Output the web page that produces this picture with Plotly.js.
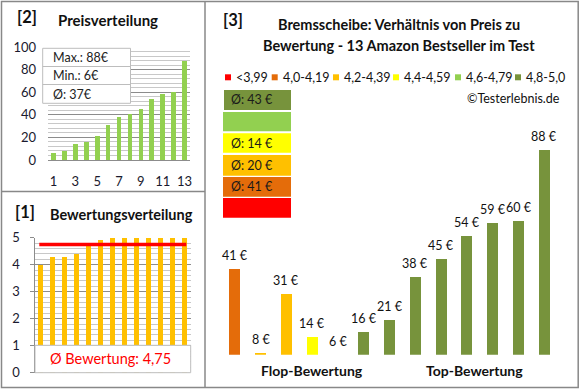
<!DOCTYPE html>
<html><head><meta charset="utf-8">
<script src="https://cdn.plot.ly/plotly-3.0.1.min.js"></script>
<style>html,body{margin:0;padding:0;background:#fff}#chart{width:580px;height:390px}</style>
</head><body><div id="chart"></div>
<script>
// ---- data ----
const rank = [1,2,3,4,5,6,7,8,9,10,11,12,13];
const pricesSorted = [6,8,14,16,21,31,38,41,45,54,59,60,88];
const ratingsSorted = [4.0,4.3,4.3,4.4,4.8,4.9,5.0,5.0,5.0,5.0,5.0,5.0,5.0];
const testPrices = [41,8,31,14,6,16,21,38,45,54,59,60,88];
const testRatings = [4.0,4.3,4.3,4.4,4.8,4.9,5.0,5.0,5.0,5.0,5.0,5.0,5.0];
const catLabels = ['<3,99','4,0-4,19','4,2-4,39','4,4-4,59','4,6-4,79','4,8-5,0'];
const catLower = [0,4.0,4.2,4.4,4.6,4.8];
const catColors = ['#FF0000','#E46C0A','#FFC000','#FFFF00','#92D050','#77933C'];

// ---- helpers ----
const W=580,H=390;
const px=x=>x/W, py=y=>1-y/H;
const FONT='Lato, Carlito, Calibri, sans-serif';
const catOf=r=>{let c=0;catLower.forEach((l,i)=>{if(r>=l-1e-9)c=i;});return c;};
const fmt=v=>v.toFixed(2).replace('.',',');

const Y3MIN=7.2;
const barColors = testRatings.map(r=>catColors[catOf(r)]);
const avgRating = ratingsSorted.reduce((a,b)=>a+b,0)/ratingsSorted.length;
const maxP = Math.max(...pricesSorted), minP=Math.min(...pricesSorted);
const avgP = Math.round(pricesSorted.reduce((a,b)=>a+b,0)/pricesSorted.length);

const traces = [
  {type:'bar',x:rank,y:pricesSorted,xaxis:'x',yaxis:'y',marker:{color:'#92D050'},width:0.43,hoverinfo:'skip'},
  {type:'bar',x:rank,y:ratingsSorted,xaxis:'x2',yaxis:'y2',marker:{color:'#FFC000'},width:0.4,hoverinfo:'skip'},
  {type:'scatter',mode:'lines',x:[rank[0]-0.1,rank[rank.length-1]+0.15],y:[avgRating,avgRating],xaxis:'x2',yaxis:'y2',line:{color:'#FF0000',width:3.5},hoverinfo:'skip'},
  {type:'bar',x:rank,y:testPrices,xaxis:'x3',yaxis:'y3',marker:{color:barColors},width:0.43,hoverinfo:'skip'}
];

const gridMajor='#8c8c8c', gridMinor='#c8c8c8';
const layout = {
  width:W,height:H,margin:{l:0,r:0,t:0,b:0},showlegend:false,
  paper_bgcolor:'#fff',plot_bgcolor:'rgba(0,0,0,0)',
  font:{family:FONT,size:12,color:'#111'},
  bargap:0,
  xaxis:{domain:[px(48),px(190)],range:[0.5,13.5],tickvals:rank.filter(v=>v%2===1),ticks:'',showgrid:false,zeroline:false,
    showline:false,tickfont:{size:13,color:'#1a1a2e'},ticklabelstandoff:12,fixedrange:true},
  yaxis:{domain:[py(160),py(47.3)],range:[0,100],dtick:20,ticks:'',showgrid:true,gridcolor:gridMajor,gridwidth:1,
    zeroline:true,zerolinecolor:gridMajor,zerolinewidth:1,
    minor:{dtick:4,showgrid:true,gridcolor:gridMinor,gridwidth:1},
    tickfont:{size:13,color:'#1a1a2e'},ticklabelstandoff:11,fixedrange:true},
  xaxis2:{domain:[px(34.5),px(190.5)],range:[0.5,13.5],showticklabels:false,ticks:'',showgrid:false,zeroline:false,showline:false,anchor:'y2',fixedrange:true},
  yaxis2:{domain:[py(372.7),py(237.7)],range:[0,5],dtick:1,ticks:'outside',ticklen:4,tickcolor:gridMajor,
    showline:true,linecolor:gridMajor,linewidth:1,showgrid:true,gridcolor:gridMajor,zeroline:false,
    minor:{dtick:0.2,showgrid:true,gridcolor:gridMinor,gridwidth:1},
    tickfont:{size:13,color:'#1a1a2e'},ticklabelstandoff:7,anchor:'x2',fixedrange:true},
  xaxis3:{domain:[px(221.8),px(557.2)],range:[0.5,13.5],visible:false,anchor:'y3',fixedrange:true},
  yaxis3:{domain:[py(354.7),py(119.6)],range:[Y3MIN,100],visible:false,anchor:'x3',fixedrange:true},
  shapes:[],annotations:[]
};
const S=layout.shapes, A=layout.annotations;
const ann=(text,x,y,o={})=>A.push(Object.assign({text,x:px(x),y:py(y),xref:'paper',yref:'paper',showarrow:false,
  xanchor:'center',yanchor:'middle',font:{family:FONT,size:12,color:'#111'}},o));
const rect=(x0,y0,x1,y1,o={})=>S.push(Object.assign({type:'rect',xref:'paper',yref:'paper',x0:px(x0),x1:px(x1),y0:py(y0),y1:py(y1),layer:'above'},o));

// price labels above right-panel bars (data coordinates)
testPrices.forEach((v,i)=>A.push({text:v+' €',xref:'x3',yref:'y3',x:rank[i],y:Math.max(v,Y3MIN),
  showarrow:false,xanchor:'center',yanchor:'bottom',yshift:4,font:{family:FONT,size:12.5,color:'#111'}}));

// panel frames
const frame={color:'#888',width:1.5};
rect(1.5,1.5,578.2,387.6,{line:frame,fillcolor:'rgba(0,0,0,0)'});
S.push({type:'line',xref:'paper',yref:'paper',x0:px(205),x1:px(205),y0:py(1.5),y1:py(387.6),line:frame,layer:'above'});
S.push({type:'line',xref:'paper',yref:'paper',x0:px(1.5),x1:px(205),y0:py(191.5),y1:py(191.5),line:frame,layer:'above'});

// top-left stats box
rect(42.7,48.3,130.5,103.3,{line:{color:'#bdbdbd',width:1},fillcolor:'#fff'});
S.push({type:'line',xref:'paper',yref:'paper',x0:px(42.7),x1:px(130.5),y0:py(66.5),y1:py(66.5),line:{color:'#bdbdbd',width:1},layer:'above'});
S.push({type:'line',xref:'paper',yref:'paper',x0:px(42.7),x1:px(130.5),y0:py(84.5),y1:py(84.5),line:{color:'#bdbdbd',width:1},layer:'above'});
ann('Max.: '+maxP+'€',51,57.7,{xanchor:'left',font:{family:FONT,size:12.5,color:'#222'}});
ann('Min.: '+minP+'€',51,75.7,{xanchor:'left',font:{family:FONT,size:12.5,color:'#222'}});
ann('Ø: '+avgP+'€',51,94,{xanchor:'left',font:{family:FONT,size:12.5,color:'#222'}});

// bottom-left rating box
rect(35,345.3,190.7,372.7,{line:{color:'#bdbdbd',width:1},fillcolor:'#fff'});
ann('Ø Bewertung: '+fmt(avgRating),110,358.5,{font:{family:FONT,size:14.5,color:'#FF0000'}});

// panel titles
ann('<b>[2]</b>',27,17.5,{font:{family:FONT,size:16.5,color:'#111'}});
ann('<b>Preisverteilung</b>',107.5,20,{font:{family:FONT,size:15,color:'#111'}});
ann('<b>[1]</b>',24.5,212.5,{font:{family:FONT,size:16.5,color:'#111'}});
ann('<b>Bewertungsverteilung</b>',121.5,214,{font:{family:FONT,size:14.5,color:'#111'}});
ann('<b>[3]</b>',233,19.5,{font:{family:FONT,size:16.5,color:'#111'}});
ann('<b>Bremsscheibe: Verhältnis von Preis zu</b>',398.5,25,{font:{family:FONT,size:14.5,color:'#111'}});
ann('<b>Bewertung - 13 Amazon Bestseller im Test</b>',399,45,{font:{family:FONT,size:14.5,color:'#111'}});

// category legend row
const sqX=[228,274.7,336,396,458,518];
catLabels.forEach((lab,i)=>{
  rect(sqX[i]-3,74.3,sqX[i]+3,80.3,{line:{width:0},fillcolor:catColors[i]});
  ann(lab,sqX[i]+6,77.5,{xanchor:'left',font:{family:FONT,size:12.5,color:'#111'}});
});
ann('©Testerlebnis.de',562,98,{xanchor:'right',font:{family:FONT,size:12.5,color:'#111'}});

// category average blocks (top to bottom: high to low)
const blockY=[[90,110],[112,131.3],[133.3,152.7],[155,175.7],[177,196.7],[198,217.7]];
[5,4,3,2,1,0].forEach((ci,k)=>{
  const vals=testPrices.filter((p,j)=>catOf(testRatings[j])===ci);
  const x0 = ci===5?224:223;
  rect(x0,blockY[k][0],291,blockY[k][1],{line:{width:0},fillcolor:catColors[ci]});
  if(vals.length){
    const a=Math.round(vals.reduce((s,v)=>s+v,0)/vals.length);
    ann('Ø: '+a+' €',252,(blockY[k][0]+blockY[k][1])/2,{font:{family:FONT,size:12.5,color:'#1a1a1a'}});
  }
});

ann('<b>Flop-Bewertung</b>',312,370,{font:{family:FONT,size:14,color:'#111'}});
ann('<b>Top-Bewertung</b>',474,370,{font:{family:FONT,size:14,color:'#111'}});

Plotly.newPlot('chart',traces,layout,{staticPlot:true,displayModeBar:false});
</script></body></html>
